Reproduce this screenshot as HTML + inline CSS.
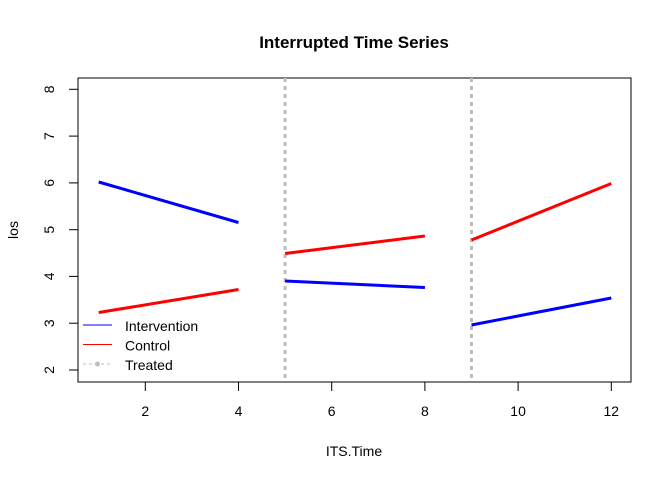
<!DOCTYPE html><html><head><style>body{margin:0;background:#fff}svg{display:block}text{font-family:"Liberation Sans",Arial,sans-serif}</style></head><body>
<svg width="672" height="480" viewBox="0 0 672 480" xmlns="http://www.w3.org/2000/svg">
<rect width="672" height="480" fill="#fff"/>
<text x="354" y="48" font-size="17" font-weight="bold" text-anchor="middle">Interrupted Time Series</text>
<rect x="78" y="78" width="553" height="304" fill="none" stroke="#000" stroke-width="1"/>
<g stroke="#000" stroke-width="1">
<line x1="145.3" y1="382" x2="145.3" y2="391"/><line x1="238.5" y1="382" x2="238.5" y2="391"/><line x1="331.7" y1="382" x2="331.7" y2="391"/><line x1="424.9" y1="382" x2="424.9" y2="391"/><line x1="518.1" y1="382" x2="518.1" y2="391"/><line x1="611.3" y1="382" x2="611.3" y2="391"/>
<line x1="69" y1="370" x2="78" y2="370"/><line x1="69" y1="323.2" x2="78" y2="323.2"/><line x1="69" y1="276.4" x2="78" y2="276.4"/><line x1="69" y1="229.7" x2="78" y2="229.7"/><line x1="69" y1="182.9" x2="78" y2="182.9"/><line x1="69" y1="136.1" x2="78" y2="136.1"/><line x1="69" y1="89.3" x2="78" y2="89.3"/>
</g>
<g font-size="14" text-anchor="middle">
<text x="145.3" y="416">2</text><text x="238.5" y="416">4</text><text x="331.7" y="416">6</text><text x="424.9" y="416">8</text><text x="518.1" y="416">10</text><text x="611.3" y="416">12</text>
<text transform="translate(54,370) rotate(-90)">2</text><text transform="translate(54,323.2) rotate(-90)">3</text><text transform="translate(54,276.4) rotate(-90)">4</text><text transform="translate(54,229.7) rotate(-90)">5</text><text transform="translate(54,182.9) rotate(-90)">6</text><text transform="translate(54,136.1) rotate(-90)">7</text><text transform="translate(54,89.3) rotate(-90)">8</text>
<text x="354" y="456">ITS.Time</text>
<text transform="translate(18,230) rotate(-90)">los</text>
</g>
<g stroke="#bebebe" stroke-width="3" stroke-dasharray="4,4">
<line x1="285.1" y1="78" x2="285.1" y2="382"/><line x1="471.5" y1="78" x2="471.5" y2="382"/>
</g>
<g stroke-width="3">
<line x1="98.7" y1="182" x2="238.5" y2="222.5" stroke="#0000ff"/>
<line x1="98.7" y1="312.5" x2="238.5" y2="289.5" stroke="#ff0000"/>
<line x1="285.1" y1="253.5" x2="424.9" y2="236" stroke="#ff0000"/>
<line x1="285.1" y1="281" x2="424.9" y2="287.5" stroke="#0000ff"/>
<line x1="471.5" y1="240" x2="611.3" y2="183.5" stroke="#ff0000"/>
<line x1="471.5" y1="325" x2="611.3" y2="298" stroke="#0000ff"/>
</g>
<line x1="83" y1="325" x2="112" y2="325" stroke="#0000ff" stroke-width="1"/>
<line x1="83" y1="344.5" x2="112" y2="344.5" stroke="#ff0000" stroke-width="1"/>
<line x1="83" y1="364" x2="112" y2="364" stroke="#bebebe" stroke-width="1" stroke-dasharray="3,3"/>
<circle cx="97.5" cy="364" r="2.5" fill="#bebebe"/>
<g font-size="14"><text x="125" y="331">Intervention</text><text x="125" y="350.5">Control</text><text x="125" y="370">Treated</text></g>
</svg></body></html>
